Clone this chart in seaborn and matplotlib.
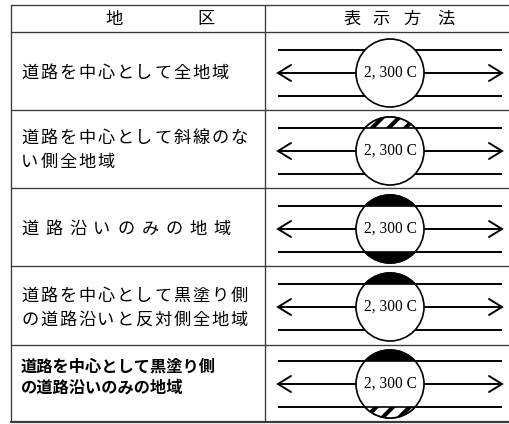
import numpy as np
import matplotlib
matplotlib.use("Agg")
import matplotlib.pyplot as plt
import seaborn as sns
from matplotlib.patches import Circle, Polygon

# ---- data ----
header_left = ["地", "区"]
header_right = ["表", "示", "方", "法"]
districts = [
    ["道路を中心として全地域"],
    ["道路を中心として斜線のな", "い側全地域"],
    ["道路沿いのみの地域"],
    ["道路を中心として黒塗り側", "の道路沿いと反対側全地域"],
    ["道路を中心として黒塗り側", "の道路沿いのみの地域"],
]
top_marks = ["none", "hatch", "black", "black", "black"]
bottom_marks = ["none", "none", "black", "none", "hatch"]
circle_label = "2, 300 C"

# ---- style ----
sns.set_theme(style="white")
plt.rcParams['font.family'] = ['Noto Sans CJK JP', 'DejaVu Sans']
plt.rcParams['hatch.linewidth'] = 3.0
plt.rcParams['hatch.color'] = 'black'

W, H = 509, 424
fig = plt.figure(figsize=(W / 100, H / 100), dpi=100)
ax = fig.add_axes([0, 0, 1, 1])
ax.set_xlim(0, W)
ax.set_ylim(H, 0)
ax.axis('off')

# layout
x_left, x_div, x_right = 11, 265, 509
y_top, y_head = 5, 32
row_bounds = [32, 110, 188, 266, 345, 422]
grid_c = '#3a3a3a'
glw = 0.95

# table grid
ax.plot([x_left, x_right], [y_top, y_top], color=grid_c, lw=glw)
for yb in row_bounds:
    ax.plot([x_left, x_right], [yb, yb], color=grid_c, lw=glw if yb != 422 else 1.6)
ax.plot([x_left, x_left], [y_top, 422], color=grid_c, lw=glw)
ax.plot([x_div, x_div], [y_top, 422], color=grid_c, lw=glw)

FS = 12.4

# header
for ch, xc in zip(header_left, [114, 206]):
    ax.text(xc, 19, ch, fontsize=FS, ha='center', va='center', color='black')
for ch, xc in zip(header_right, [352, 381, 412, 446]):
    ax.text(xc, 19, ch, fontsize=FS, ha='center', va='center', color='black')

# left column texts
text_ys = [[73], [138, 162], [229], [296, 320], [367, 388]]
pitches = [19, 19, 24, 19, None]
for i, (lines, ys, p) in enumerate(zip(districts, text_ys, pitches)):
    for line, y in zip(lines, ys):
        if p is None:
            ax.text(21, y, line, fontsize=11.7, ha='left', va='center',
                    color='black', fontweight='bold')
        else:
            for k, ch in enumerate(line):
                ax.text(30 + k * p, y, ch, fontsize=FS, ha='center',
                        va='center', color='black')

# road diagrams
cx, r, d = 390, 34, 23
centers = [73, 151, 229, 307, 384]
x0, x1 = 278, 502
road_lw = 1.4
ah_len, ah_w = 13, 8


def segment(cy, side):
    a = np.arcsin(d / r)
    t = np.linspace(a, np.pi - a, 60)
    xs = cx + r * np.cos(t)
    if side == 'top':
        ys = cy - r * np.sin(t)
    else:
        ys = cy + r * np.sin(t)
    return np.column_stack([xs, ys])


for cy, tm, bm in zip(centers, top_marks, bottom_marks):
    # road edges
    for yy in (cy - d, cy + d):
        ax.plot([x0, x1], [yy, yy], color='black', lw=road_lw, zorder=1,
                solid_capstyle='butt')
    # arrow shafts
    ax.plot([x0 + 1, cx - r], [cy, cy], color='black', lw=road_lw, zorder=1)
    ax.plot([cx + r, x1 - 1], [cy, cy], color='black', lw=road_lw, zorder=1)
    # arrow heads (open)
    ax.plot([x0 + ah_len, x0, x0 + ah_len], [cy - ah_w, cy, cy + ah_w],
            color='black', lw=road_lw, zorder=1, solid_joinstyle='miter')
    ax.plot([x1 - ah_len, x1, x1 - ah_len], [cy - ah_w, cy, cy + ah_w],
            color='black', lw=road_lw, zorder=1, solid_joinstyle='miter')
    # circle
    ax.add_patch(Circle((cx, cy), r, facecolor='white', edgecolor='black',
                        lw=1.2, zorder=2))
    for side, mark in (('top', tm), ('bottom', bm)):
        if mark == 'none':
            continue
        pts = segment(cy, side)
        if mark == 'black':
            ax.add_patch(Polygon(pts, closed=True, facecolor='black',
                                 edgecolor='black', lw=1.2, zorder=3))
        else:
            ax.add_patch(Polygon(pts, closed=True, facecolor='white',
                                 edgecolor='black', hatch='//', lw=1.2,
                                 zorder=3))
    ax.text(cx + 0.5, cy, circle_label, fontsize=11.2, ha='center', va='center',
            family=['Liberation Serif', 'DejaVu Serif'], color='black',
            zorder=4)

fig.savefig('out.png', dpi=100, facecolor='white')
